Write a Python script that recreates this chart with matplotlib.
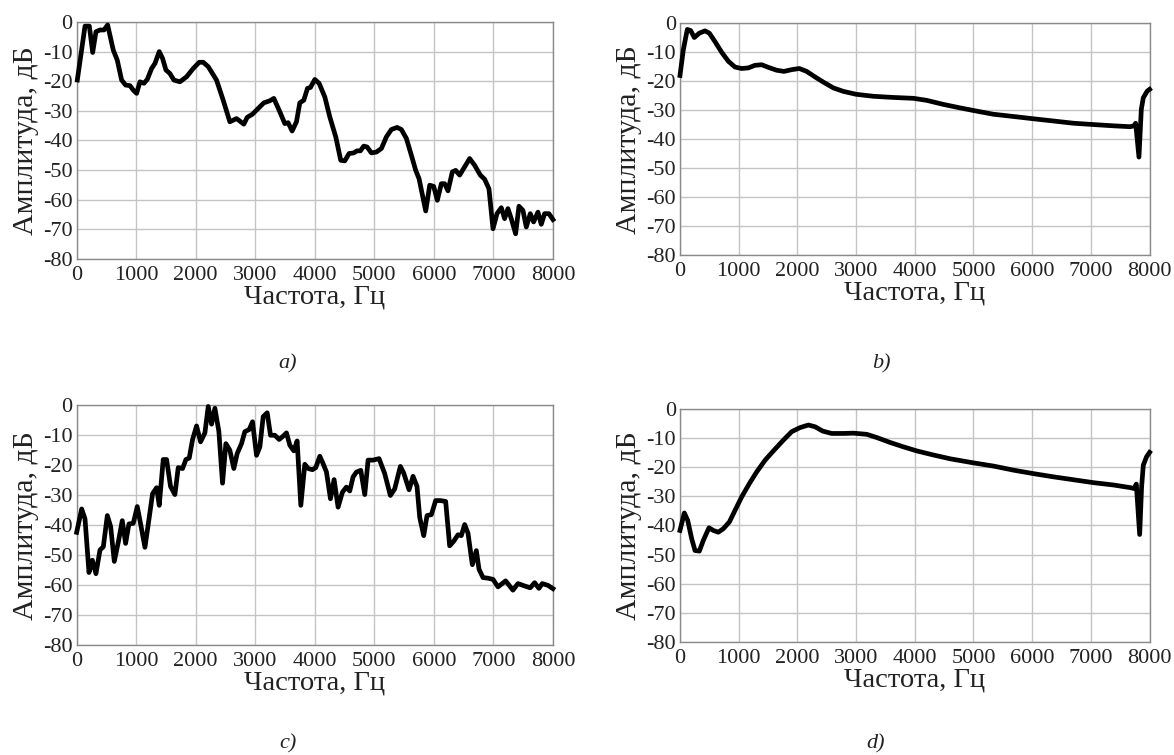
import numpy as np
import matplotlib
matplotlib.use("Agg")
import matplotlib.pyplot as plt

plt.rcParams['font.family'] = ['Liberation Serif', 'DejaVu Serif']
plt.rcParams['axes.unicode_minus'] = False

# --- a) ---
freq_a = [11, 140, 213, 269, 324, 392, 459, 520, 615, 682, 755, 822, 895, 951, 1007,
          1063, 1130, 1186, 1259, 1315, 1387, 1443, 1499, 1566, 1633, 1734, 1846, 1958,
          2059, 2126, 2210, 2349, 2461, 2573, 2685, 2808, 2864, 2954, 3049, 3144, 3245,
          3312, 3412, 3496, 3552, 3619, 3692, 3748, 3815, 3877, 3927, 4000, 4072, 4168,
          4251, 4352, 4436, 4503, 4576, 4654, 4710, 4766, 4822, 4878, 4951, 5035, 5119,
          5202, 5286, 5381, 5454, 5538, 5622, 5695, 5751, 5863, 5930, 5997, 6058, 6125,
          6181, 6237, 6310, 6366, 6433, 6517, 6601, 6685, 6780, 6853, 6925, 6993, 7060,
          7132, 7188, 7244, 7300, 7373, 7429, 7496, 7552, 7619, 7675, 7748, 7804, 7860,
          7932, 8000]
amp_a = [-19.6, -1.4, -1.4, -10.3, -3.3, -2.7, -2.7, -1.0, -9.5, -12.9, -19.6, -21.3,
         -21.5, -23.0, -24.1, -20.2, -20.7, -19.4, -15.7, -14.0, -10.0, -12.3, -16.2,
         -17.4, -19.6, -20.2, -18.5, -15.7, -13.6, -13.6, -15.1, -19.6, -26.4, -33.7,
         -32.6, -34.5, -32.2, -31.1, -29.2, -27.3, -26.6, -25.8, -30.3, -34.3, -34.0,
         -36.8, -33.7, -27.3, -26.4, -22.4, -22.1, -19.4, -20.7, -25.3, -32.0, -38.8,
         -46.7, -46.9, -44.4, -44.2, -43.5, -43.5, -41.9, -42.2, -44.2, -43.9, -42.7,
         -38.8, -36.3, -35.6, -36.3, -39.3, -45.0, -50.1, -52.9, -63.8, -55.1, -55.5,
         -60.2, -54.6, -54.6, -57.0, -50.6, -50.1, -51.7, -48.9, -46.1, -48.4, -51.7,
         -53.1, -56.3, -69.8, -64.7, -62.7, -66.4, -63.0, -66.4, -71.5, -62.2, -63.6,
         -69.2, -64.7, -67.5, -64.2, -68.3, -64.7, -64.7, -66.7]

# --- b) ---
freq_b = [0, 57, 125, 182, 244, 329, 426, 500, 596, 710, 824, 937, 1051, 1164, 1278,
          1392, 1505, 1647, 1772, 1903, 2033, 2158, 2300, 2442, 2613, 2783, 2999, 3294,
          3635, 3976, 4203, 4487, 4771, 4998, 5339, 5737, 5992, 6305, 6702, 6998, 7384,
          7668, 7734, 7763, 7819, 7859, 7893, 7960, 8000]
amp_b = [-18.0, -9.1, -2.1, -2.5, -4.9, -3.4, -2.6, -3.4, -6.3, -10.0, -13.1, -15.1,
         -15.6, -15.4, -14.5, -14.3, -15.2, -16.2, -16.6, -16.0, -15.6, -16.6, -18.5,
         -20.3, -22.3, -23.5, -24.5, -25.2, -25.6, -25.9, -26.6, -28.0, -29.2, -30.1,
         -31.4, -32.3, -32.9, -33.6, -34.5, -34.9, -35.4, -35.7, -35.4, -34.5, -46.2,
         -29.7, -25.7, -23.4, -22.8]

# --- c) ---
freq_c = [0, 84, 140, 207, 263, 324, 392, 448, 515, 571, 632, 699, 766, 822, 878, 951,
          1018, 1080, 1147, 1219, 1275, 1343, 1387, 1454, 1510, 1577, 1650, 1706, 1779,
          1835, 1891, 1947, 2014, 2081, 2154, 2210, 2266, 2322, 2389, 2450, 2506, 2573,
          2640, 2696, 2769, 2825, 2898, 2954, 3021, 3077, 3133, 3200, 3256, 3328, 3401,
          3457, 3524, 3580, 3647, 3703, 3765, 3832, 3888, 3960, 4016, 4084, 4140, 4196,
          4263, 4324, 4391, 4464, 4531, 4587, 4643, 4699, 4772, 4839, 4895, 4979, 5079,
          5174, 5269, 5342, 5437, 5493, 5583, 5650, 5717, 5762, 5829, 5885, 5958, 6030,
          6109, 6198, 6265, 6332, 6405, 6461, 6517, 6573, 6646, 6713, 6758, 6825, 6908,
          6993, 7077, 7205, 7328, 7412, 7524, 7619, 7692, 7764, 7820, 7916, 8000]
amp_c = [-42.4, -34.6, -37.9, -55.8, -51.7, -56.2, -48.3, -47.2, -36.8, -40.5, -52.1,
         -45.7, -38.5, -46.1, -39.6, -39.4, -33.8, -40.2, -47.4, -37.4, -29.5, -27.5,
         -33.4, -18.1, -18.1, -27.1, -29.8, -20.8, -21.1, -18.1, -17.6, -11.4, -6.9,
         -12.2, -9.2, -0.4, -6.3, -1.0, -8.8, -26.0, -12.8, -15.0, -21.1, -16.1, -12.8,
         -8.8, -8.1, -5.5, -16.7, -13.9, -3.8, -2.5, -10.0, -10.0, -11.4, -10.5, -9.2,
         -13.3, -15.2, -11.9, -33.4, -19.7, -21.1, -21.5, -20.8, -17.0, -19.5, -22.3,
         -31.2, -24.8, -34.0, -29.0, -27.3, -28.6, -23.9, -22.3, -21.7, -29.8, -18.3,
         -18.3, -17.8, -22.8, -30.1, -27.9, -20.4, -22.6, -28.2, -23.7, -27.1, -37.4,
         -43.5, -36.8, -36.5, -31.8, -31.8, -32.1, -46.9, -45.4, -43.2, -43.5, -39.8,
         -42.7, -53.2, -48.5, -54.7, -57.5, -57.7, -58.1, -60.6, -58.6, -61.7, -59.5,
         -60.3, -60.9, -59.2, -61.1, -59.5, -60.1, -61.2]

# --- d) ---
freq_d = [0, 74, 131, 199, 256, 330, 398, 494, 568, 653, 739, 841, 938, 1051, 1182,
          1307, 1449, 1591, 1761, 1903, 2045, 2187, 2301, 2432, 2585, 2784, 2955, 3182,
          3352, 3580, 3807, 4034, 4318, 4602, 4999, 5340, 5681, 6022, 6363, 6704, 7045,
          7386, 7670, 7734, 7774, 7831, 7864, 7893, 7949, 8000]
amp_d = [-41.7, -35.7, -38.2, -44.5, -48.6, -48.8, -45.1, -40.8, -41.7, -42.3, -41.1,
         -38.8, -34.8, -30.2, -25.6, -21.6, -17.6, -14.4, -10.7, -7.8, -6.4, -5.5, -6.1,
         -7.6, -8.4, -8.4, -8.3, -8.7, -9.8, -11.5, -13.0, -14.4, -15.8, -17.1, -18.5,
         -19.6, -21.0, -22.2, -23.3, -24.3, -25.3, -26.1, -27.0, -27.3, -25.8, -43.1,
         -26.8, -19.3, -16.4, -14.9]

captions = ['a)', 'b)', 'c)', 'd)']
x_ticks = list(range(0, 8001, 1000))
y_ticks = list(range(-80, 1, 10))

fig = plt.figure(figsize=(11.74, 7.55), dpi=100)

# axes rectangles in figure fractions
rects = [[0.0653, 0.657, 0.4057, 0.3139],
         [0.5792, 0.6623, 0.4000, 0.3068],
         [0.0653, 0.1457, 0.4057, 0.3175],
         [0.5792, 0.1497, 0.4000, 0.3086]]
caption_pos = [(0.237, 0.512), (0.743, 0.512), (0.238, 0.008), (0.738, 0.008)]
series = [(freq_a, amp_a), (freq_b, amp_b), (freq_c, amp_c), (freq_d, amp_d)]

for rect, (f, a), cap, cpos in zip(rects, series, captions, caption_pos):
    ax = fig.add_axes(rect)
    ax.plot(f, a, color='black', lw=3.4, solid_joinstyle='round', clip_on=False, zorder=3)
    ax.set_xlim(0, 8000)
    ax.set_ylim(-80, 0)
    ax.set_xticks(x_ticks)
    ax.set_yticks(y_ticks)
    ax.grid(True, color='#c4c4c4', lw=1.0)
    ax.set_axisbelow(True)
    ax.tick_params(length=0, labelsize=16, colors='#222222')
    ax.tick_params(axis='x', pad=5)
    ax.tick_params(axis='y', pad=3)
    for s in ax.spines.values():
        s.set_color('#8a8a8a')
        s.set_linewidth(1.0)
    ax.set_xlabel('Частота, Гц', fontsize=20.5, labelpad=0, color='#222222')
    ax.set_ylabel('Амплитуда, дБ', fontsize=21.5, labelpad=3, color='#222222')
    fig.text(cpos[0], cpos[1], cap, fontsize=16, style='italic', color='#222222')

fig.savefig('out.png', dpi=100)
